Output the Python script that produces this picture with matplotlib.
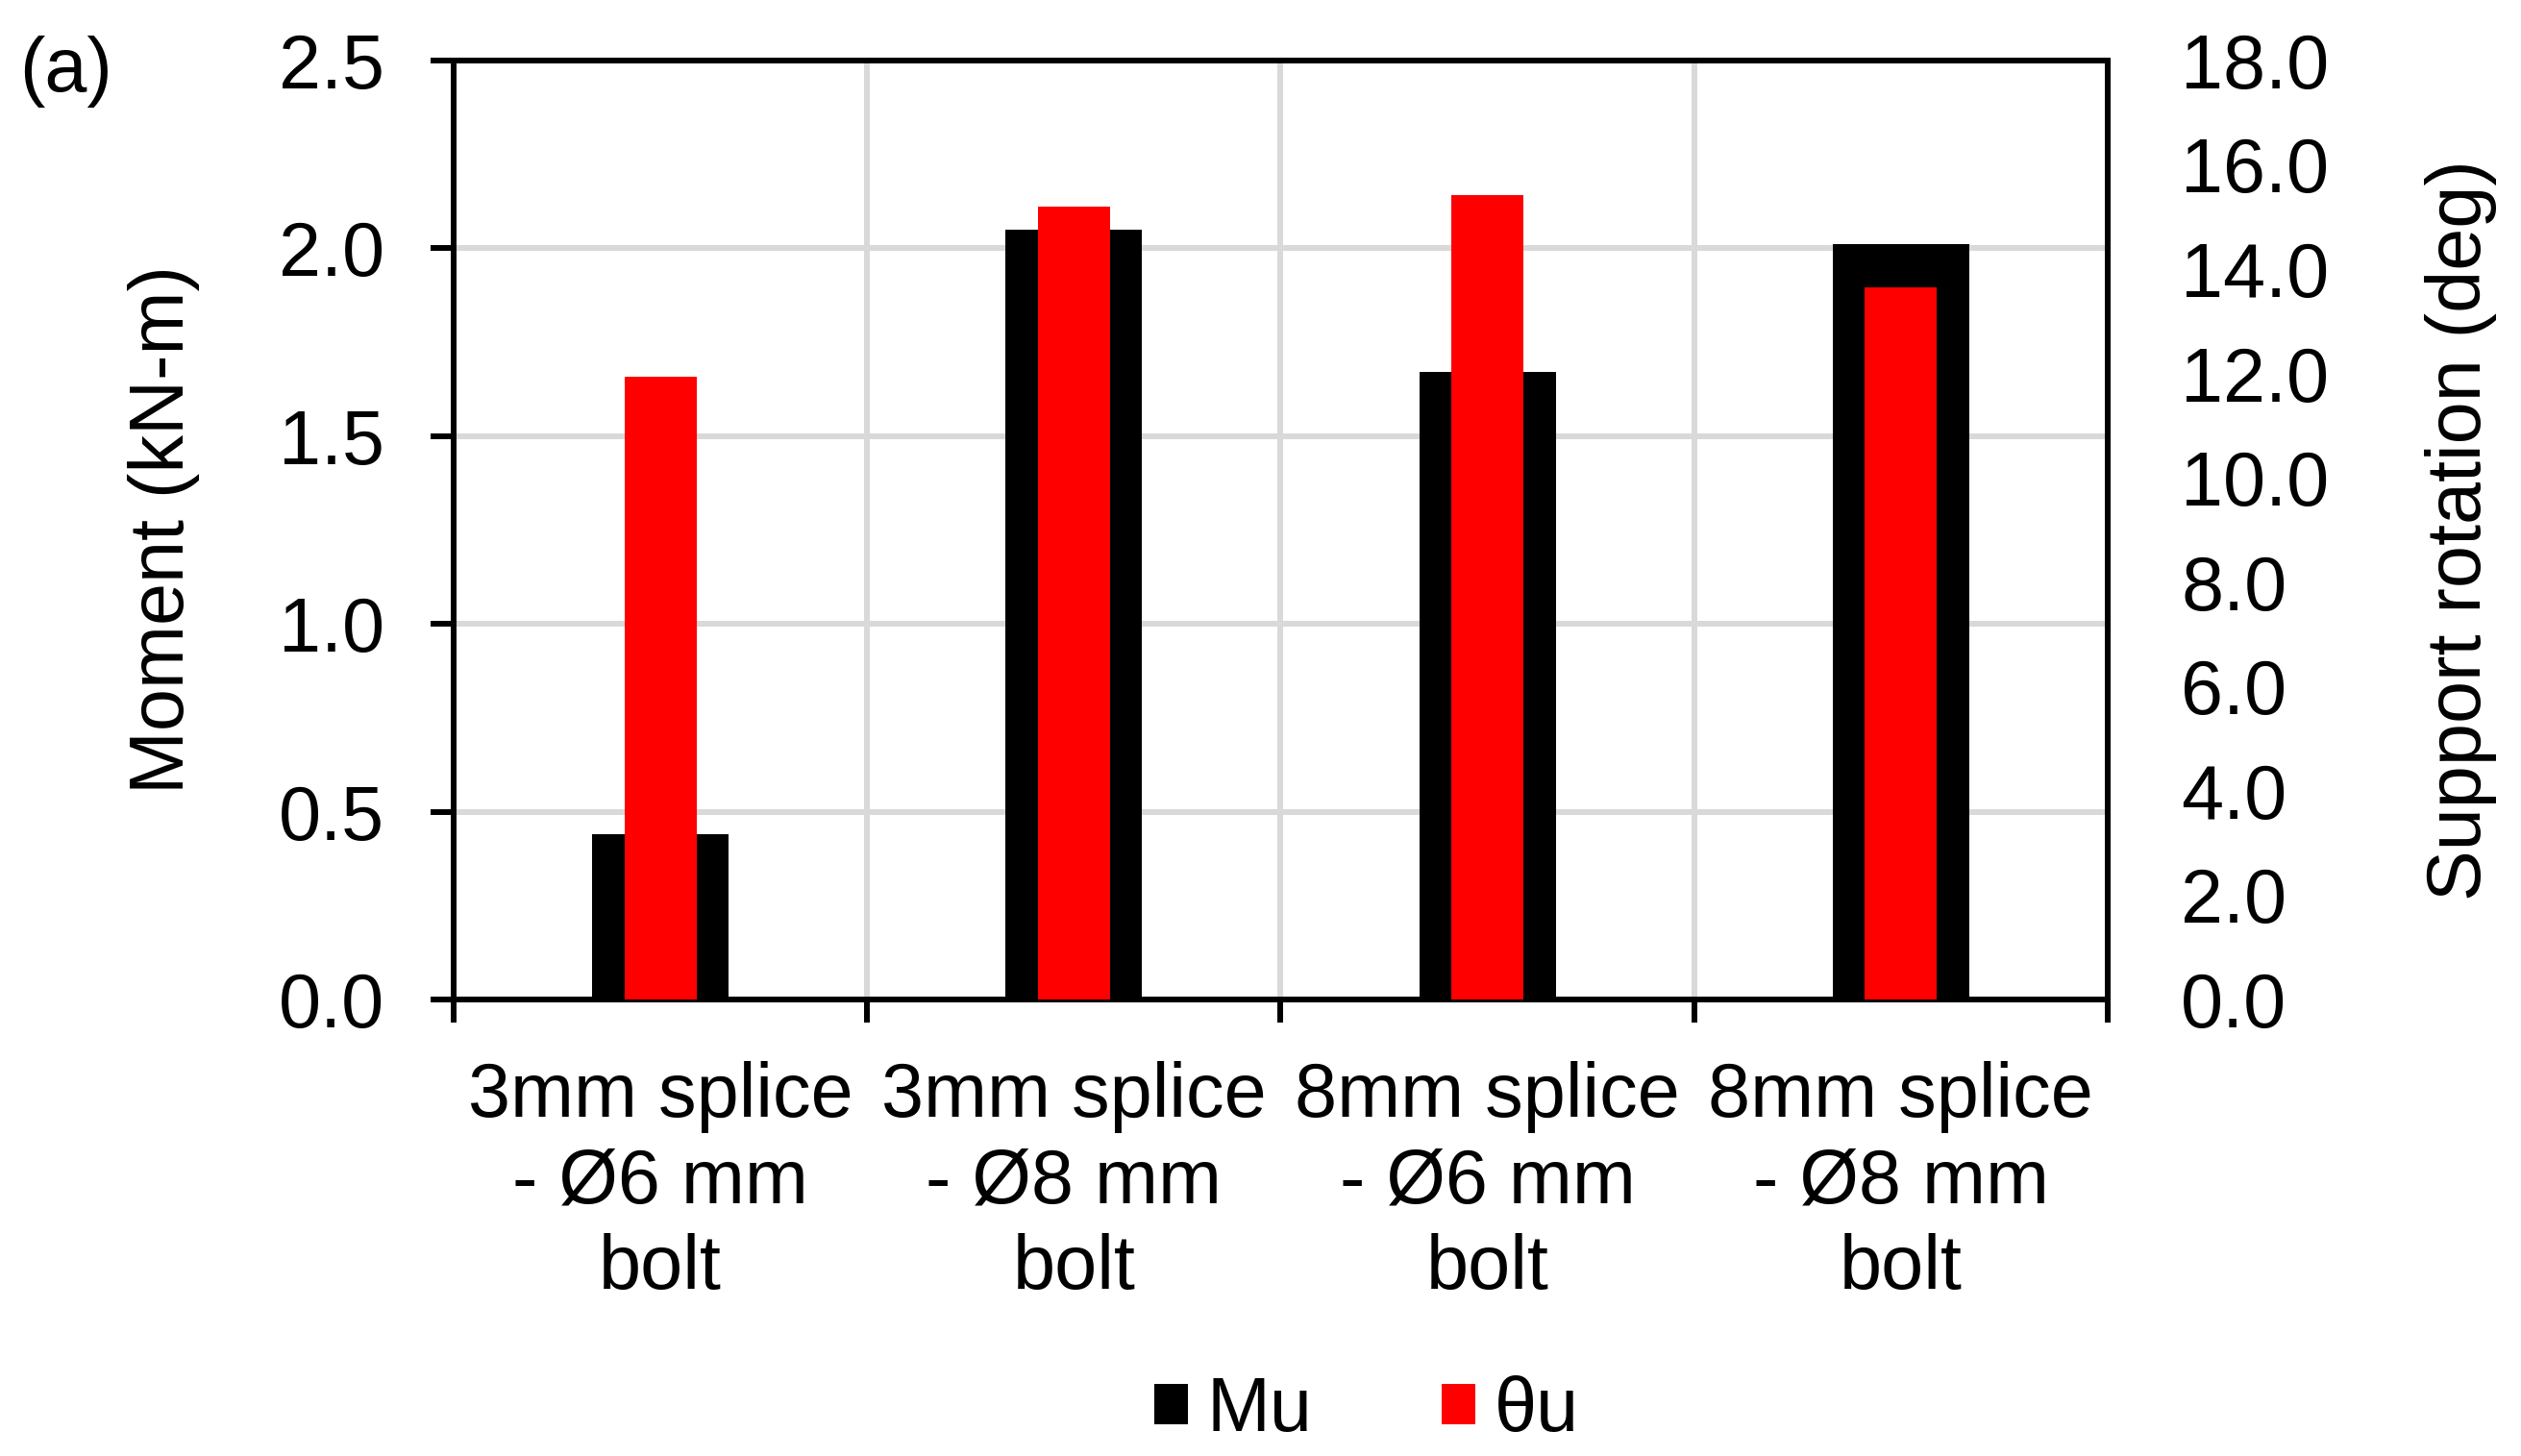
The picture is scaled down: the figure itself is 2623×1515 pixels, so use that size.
import numpy as np
import matplotlib
matplotlib.use("Agg")
import matplotlib.pyplot as plt

plt.rcParams['font.family'] = ['Liberation Sans', 'DejaVu Sans']

# data
categories = ["3mm splice\n- Ø6 mm\nbolt", "3mm splice\n- Ø8 mm\nbolt",
              "8mm splice\n- Ø6 mm\nbolt", "8mm splice\n- Ø8 mm\nbolt"]
moment = [0.44, 2.05, 1.67, 2.01]        # Mu, kN-m
rotation = [11.94, 15.20, 15.42, 13.65]  # theta_u, deg

fs = 57
lw = 4.3
grid_col = '#d9d9d9'

fig = plt.figure(figsize=(26.23, 15.15), dpi=100)
ax = fig.add_axes([0.18, 0.3135, 0.656, 0.645])
ax2 = ax.twinx()

x = np.arange(len(categories))
ax.bar(x, moment, width=0.33, color='black', zorder=3, label='Mu')
ax2.bar(x, rotation, width=0.175, color='#ff0000', zorder=3, label='θu')

ax.set_xlim(-0.5, 3.5)
ax.set_ylim(0, 2.5)
ax2.set_ylim(0, 18)

ax.set_yticks(np.arange(0, 2.51, 0.5))
ax.set_yticklabels(['%.1f' % v for v in np.arange(0, 2.51, 0.5)])
ax2.set_yticks(np.arange(0, 18.1, 2))
ax2.set_yticklabels(['%.1f' % v for v in np.arange(0, 18.1, 2)])

# boundaries as major ticks, labels on minor ticks at centers
ax.set_xticks(np.arange(-0.5, 3.6, 1.0))
ax.set_xticklabels([])
ax.set_xticks(x, minor=True)
ax.set_xticklabels(categories, minor=True, fontsize=fs, linespacing=1.25)

ax.set_axisbelow(True)
ax.grid(True, which='major', color=grid_col, linewidth=lw)

ax.tick_params(axis='y', which='major', length=17, width=lw, direction='out',
               labelsize=fs, pad=35)
ax.tick_params(axis='x', which='major', length=17, width=lw, direction='out')
ax.tick_params(axis='x', which='minor', length=0, pad=46)
ax2.tick_params(axis='y', length=0, labelsize=fs, pad=55)

for a in (ax, ax2):
    for s in a.spines.values():
        s.set_color('black')
        s.set_linewidth(lw)

ax.set_ylabel('Moment (kN-m)', fontsize=fs, labelpad=59)
ax2.set_ylabel('Support rotation (deg)', fontsize=fs, rotation=90, labelpad=72)

fig.text(20 / 2623, 1 - 75 / 1515, '(a)', fontsize=fs, ha='left', va='center')

h1, l1 = ax.get_legend_handles_labels()
h2, l2 = ax2.get_legend_handles_labels()
fig.legend(h1 + h2, l1 + l2, loc='center', bbox_to_anchor=(1422 / 2623, 1 - 1469 / 1515),
           ncol=2, frameon=False, fontsize=fs, handlelength=0.44, handleheight=0.44,
           handletextpad=0.25, columnspacing=1.7)

fig.savefig('out.png', dpi=100)
